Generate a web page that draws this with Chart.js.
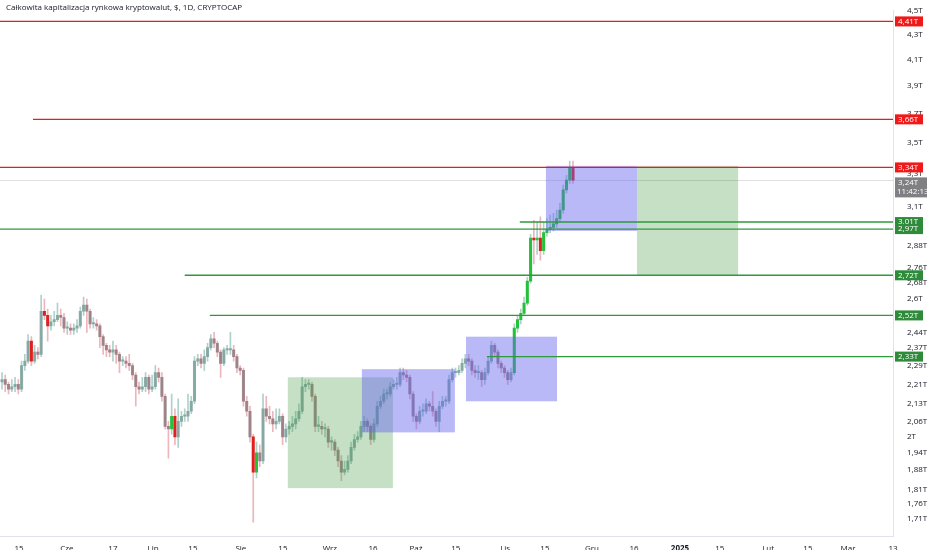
<!DOCTYPE html>
<html><head><meta charset="utf-8">
<script src="https://cdn.jsdelivr.net/npm/chart.js@4.4.1/dist/chart.umd.min.js"></script>
<style>html,body{margin:0;padding:0;background:#fff;}canvas{display:block;}</style>
</head><body>
<canvas id="c" width="932" height="550"></canvas>
<script>
const title = "Całkowita kapitalizacja rynkowa kryptowalut, $, 1D, CRYPTOCAP";
const firstOpen = 2.22;
const closes = [2.23,2.21,2.19,2.20,2.21,2.19,2.29,2.31,2.40,2.31,2.35,2.34,2.54,2.52,2.47,2.49,2.50,2.52,2.51,2.46,2.46,2.45,2.46,2.47,2.54,2.57,2.54,2.48,2.48,2.47,2.42,2.38,2.36,2.35,2.36,2.34,2.31,2.31,2.30,2.29,2.25,2.20,2.19,2.20,2.24,2.19,2.20,
2.26,2.24,2.16,2.04,2.03,2.08,2.00,2.06,2.08,2.08,2.10,2.14,2.31,2.32,2.30,2.33,2.37,2.41,2.39,2.35,2.30,2.36,2.36,2.36,2.33,2.28,2.27,2.14,2.10,2.00,1.87,1.94,1.91,2.11,2.08,2.07,2.05,2.06,2.08,2.00,2.03,2.04,
2.05,2.07,2.10,2.20,2.21,2.21,2.16,2.04,2.04,2.03,2.03,1.98,1.98,1.95,1.91,1.87,1.88,1.91,1.96,1.99,2.00,2.04,2.06,2.04,1.99,2.05,2.12,2.14,2.17,2.17,2.20,2.21,2.21,2.26,2.25,2.24,2.17,2.08,2.06,2.10,2.10,2.13,2.12,2.10,2.06,2.12,2.14,2.14,2.23,2.26,
2.26,2.27,2.30,2.32,2.31,2.27,2.26,2.26,2.23,2.26,2.31,2.38,2.35,2.30,2.28,2.26,2.23,2.26,2.46,2.50,2.53,2.58,2.69,2.92,2.91,2.92,2.85,2.95,2.97,2.98,3.00,3.03,3.08,3.20,3.26,3.34,3.26];
const highs = [2.26,2.25,2.22,2.23,2.24,2.23,2.31,2.34,2.43,2.42,2.38,2.37,2.62,2.60,2.55,2.52,2.54,2.58,2.55,2.53,2.49,2.48,2.48,2.50,2.56,2.61,2.60,2.55,2.51,2.50,2.48,2.43,2.39,2.38,2.40,2.38,2.35,2.33,2.33,2.34,2.30,2.26,2.22,2.24,2.26,2.25,2.25,
2.29,2.28,2.26,2.17,2.06,2.17,2.11,2.15,2.10,2.11,2.17,2.16,2.33,2.34,2.34,2.36,2.39,2.43,2.44,2.40,2.36,2.37,2.38,2.44,2.38,2.34,2.29,2.28,2.16,2.12,2.01,1.98,1.97,2.17,2.16,2.12,2.10,2.11,2.11,2.09,2.05,2.06,
2.08,2.10,2.13,2.24,2.23,2.23,2.22,2.17,2.08,2.06,2.05,2.04,2.00,1.99,1.96,1.93,1.91,1.93,1.98,2.01,2.02,2.06,2.08,2.07,2.05,2.07,2.14,2.16,2.19,2.19,2.22,2.23,2.24,2.28,2.28,2.27,2.25,2.18,2.09,2.12,2.13,2.15,2.14,2.18,2.11,2.14,2.16,2.16,2.25,2.28,
2.28,2.29,2.32,2.34,2.34,2.32,2.29,2.29,2.27,2.28,2.33,2.40,2.39,2.36,2.31,2.29,2.27,2.28,2.48,2.52,2.55,2.61,2.71,2.94,3.02,3.01,3.04,3.01,3.03,3.05,3.06,3.08,3.12,3.23,3.29,3.38,3.38];
const lows = [2.19,2.18,2.17,2.18,2.18,2.17,2.18,2.27,2.30,2.29,2.30,2.32,2.33,2.50,2.40,2.45,2.47,2.49,2.47,2.44,2.43,2.43,2.43,2.44,2.46,2.52,2.44,2.46,2.46,2.45,2.37,2.34,2.33,2.33,2.31,2.30,2.26,2.29,2.28,2.27,2.23,2.12,2.17,2.18,2.18,2.17,2.18,
2.19,2.22,2.14,2.03,1.92,2.01,1.97,1.96,2.04,2.06,2.06,2.09,2.13,2.29,2.28,2.27,2.31,2.36,2.37,2.33,2.24,2.29,2.34,2.34,2.31,2.26,2.25,2.12,2.08,1.98,1.70,1.85,1.89,1.90,2.06,2.05,2.02,2.03,2.05,1.97,1.98,2.01,
2.02,2.03,2.06,2.09,2.18,2.19,2.14,2.02,2.02,2.01,2.00,1.96,1.95,1.93,1.89,1.84,1.86,1.87,1.90,1.95,1.98,1.99,2.02,2.02,1.97,1.98,2.04,2.11,2.13,2.15,2.16,2.19,2.19,2.20,2.23,2.22,2.15,2.06,2.03,2.05,2.08,2.09,2.10,2.08,2.04,2.02,2.11,2.12,2.13,2.22,
2.24,2.25,2.26,2.28,2.29,2.25,2.24,2.23,2.20,2.21,2.25,2.30,2.33,2.28,2.26,2.24,2.21,2.22,2.25,2.44,2.48,2.52,2.57,2.68,2.78,2.83,2.80,2.83,2.93,2.95,2.96,2.98,3.01,3.06,3.18,3.24,3.24];
const brightIdx = [9,13,14,52,53,77,78,157,158,159,160,161,162,163,164,165,166,167,168,169,170,171,172,173,174,175];

const yTicks = [4.5,4.3,4.1,3.9,3.7,3.5,3.3,3.1,2.88,2.76,2.68,2.6,2.44,2.37,2.29,2.21,2.13,2.06,2.0,1.94,1.88,1.81,1.76,1.71];
const xTickLabels = ["15","Cze","17","Lip","15","Sie","15","Wrz","16","Paź","15","Lis","15","Gru","16","2025","15","Lut","15","Mar","13"];
const xTickPos = [5.2,19.9,34.0,46.3,58.5,73.2,86.1,100.5,113.7,126.9,139.1,154.2,166.4,180.8,193.7,207.8,220.0,234.8,247.0,259.3,273.1];

const levelValues = [4.41,3.66,3.34,3.01,2.97,2.72,2.52,2.33];
const levelStarts = [-1,9.5,-1,158.7,-1,56,63.7,148.6];
const levelKinds = ["r","r","r","g","g","g","g","g"];
const boxX0 = [87.6,110.3,142.2,166.7,194.6];
const boxX1 = [119.8,138.8,170.1,194.6,225.6];
const boxTop = [2.24,2.275,2.42,3.35,3.35];
const boxBot = [1.814,2.017,2.14,2.96,2.72];
const boxKinds = ["g","b","b","b","g"];
const lastPrice = 3.24, lastTime = "11:42:13";

const n = closes.length;
const opens = closes.map((c,i)=> i===0 ? firstOpen : closes[i-1]);
const ppi = 571/(n-1);
const bright = new Set(brightIdx);
const colorFor = i => {
  const up = closes[i] >= opens[i];
  if (bright.has(i)) return up ? '#26c13a' : '#e02020';
  return up ? 'rgba(125,160,155,0.85)' : 'rgba(145,120,125,0.85)';
};
const wickColorFor = i => {
  const up = closes[i] >= opens[i];
  return up ? 'rgba(140,190,180,0.7)' : 'rgba(230,150,160,0.7)';
};

const overlay = {
  id:'overlay',
  beforeDatasetsDraw(ch){
    const {ctx, chartArea:a, scales:{y}} = ch;
    ctx.save();
    ctx.strokeStyle='rgba(190,190,200,0.5)'; ctx.lineWidth=1;
    const py=Math.round(y.getPixelForValue(lastPrice+0.02))+0.5;
    ctx.beginPath(); ctx.moveTo(a.left,py); ctx.lineTo(a.right,py); ctx.stroke();
    ctx.restore();
  },
  afterDatasetsDraw(ch){
    const {ctx, chartArea:a, scales:{x,y}} = ch;
    ctx.save();
    boxX0.forEach((_,i)=>{
      const l=x.getPixelForValue(boxX0[i]), r=x.getPixelForValue(boxX1[i]);
      const t=y.getPixelForValue(boxTop[i]), b=y.getPixelForValue(boxBot[i]);
      ctx.fillStyle = boxKinds[i]==='g' ? 'rgba(76,160,76,0.32)' : 'rgba(100,100,240,0.45)';
      ctx.fillRect(l,t,r-l,b-t);
    });
    levelValues.forEach((v,i)=>{
      const py=y.getPixelForValue(v);
      const l= levelStarts[i]<0 ? a.left : x.getPixelForValue(levelStarts[i]);
      ctx.strokeStyle = levelKinds[i]==='r' ? '#f01818' : '#2e9a3a';
      ctx.lineWidth=1.4;
      ctx.beginPath(); ctx.moveTo(l,py); ctx.lineTo(a.right,py); ctx.stroke();
    });
    ctx.restore();
  },
  afterDraw(ch){
    const {ctx, chartArea:a, scales:{y}} = ch;
    ctx.save();
    ctx.font='8px "Open Sans", sans-serif';
    ctx.textBaseline='middle';
    const fmt=v=>String(v).replace('.',',')+'T';
    levelValues.forEach((v,i)=>{
      const py=y.getPixelForValue(v);
      ctx.fillStyle = levelKinds[i]==='r' ? '#f01818' : '#2e8b3a';
      ctx.fillRect(a.right+2,py-5,28,10);
      ctx.fillStyle='#fff';
      ctx.fillText(fmt(v.toFixed(2)),a.right+5,py);
    });
    const py=y.getPixelForValue(lastPrice);
    ctx.fillStyle='#808084';
    ctx.fillRect(a.right+2,py-6,32,20);
    ctx.fillStyle='#fff';
    ctx.fillText(fmt(lastPrice.toFixed(2)),a.right+5,py-1);
    ctx.fillText(lastTime,a.right+4,py+8);
    ctx.fillStyle='#131722';
    ctx.font='8px "Open Sans", sans-serif';
    ctx.textBaseline='alphabetic';
    ctx.fillText(title,6,10);
    ctx.restore();
  }
};

const wickData = closes.map((c,i)=>({x:i,y:[lows[i],highs[i]]}));
const bodyData = closes.map((c,i)=>{
  let a=opens[i], b=c; if (Math.abs(a-b)<0.004) b=a+0.006;
  return {x:i,y:[a,b]};
});

new Chart(document.getElementById('c'), {
  type:'bar',
  data:{datasets:[
    {data:wickData, backgroundColor:closes.map((c,i)=>wickColorFor(i)), barThickness:1, grouped:false, order:2},
    {data:bodyData, backgroundColor:closes.map((c,i)=>colorFor(i)), barThickness:2.4, grouped:false, order:1}
  ]},
  options:{
    responsive:false, animation:false, devicePixelRatio:1,
    layout:{padding:{left:0,right:0,top:0,bottom:0}},
    plugins:{legend:{display:false},tooltip:{enabled:false}},
    scales:{
      x:{type:'linear', min:-2/ppi, max:891/ppi, offset:false,
        grid:{display:false}, border:{color:'#e0e3eb'},
        afterBuildTicks(s){ s.ticks = xTickPos.map(v=>({value:v})); },
        afterFit(s){ s.height=14; },
        ticks:{autoSkip:false, maxRotation:0, padding:0, color:'#131722',
          font:(c)=>({family:'"Open Sans", sans-serif', size:8, weight: (c.tick && xTickLabels[c.index]==='2025') ? 'bold':'normal'}),
          callback:(v,i)=>xTickLabels[i]}
      },
      y:{type:'logarithmic', position:'right', min:1.656, max:4.5,
        grid:{display:false}, border:{color:'#e0e3eb'},
        afterBuildTicks(s){ s.ticks = yTicks.map(v=>({value:v})); },
        afterFit(s){ s.width=39; },
        ticks:{autoSkip:false, padding:6, color:'#131722', font:{family:'"Open Sans", sans-serif', size:8},
          callback:(v)=>String(v).replace('.',',')+'T'}
      }
    }
  },
  plugins:[overlay]
});
</script>
</body></html>
